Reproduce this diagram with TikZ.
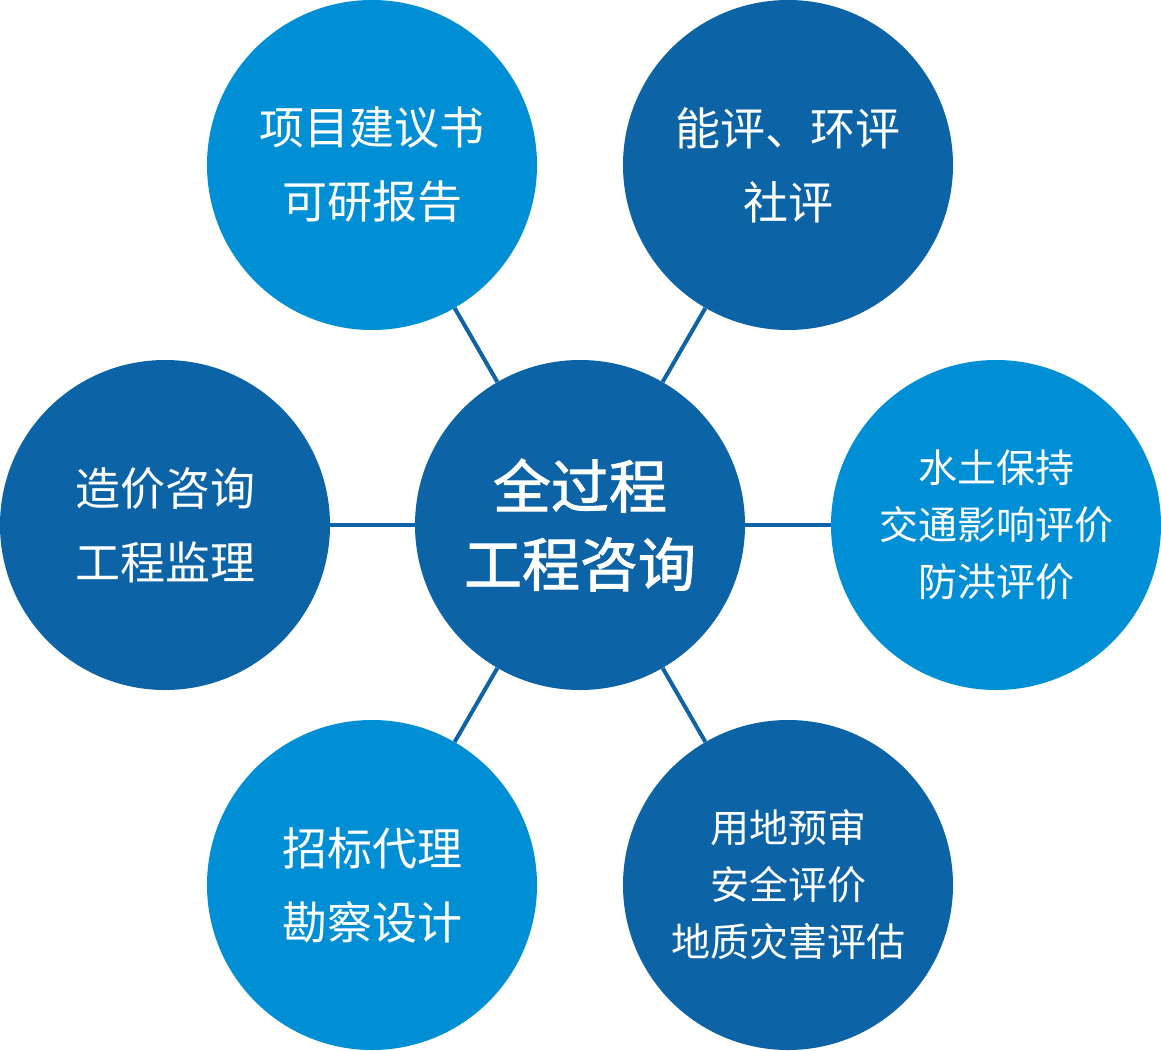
\documentclass[tikz,border=0pt]{standalone}
\usepackage{fontspec}
\setmainfont{Noto Sans CJK SC}
\newfontfamily\cjkmed[FakeBold=1.6]{Noto Sans CJK SC}
\definecolor{lightb}{HTML}{008FD5}
\definecolor{darkb}{HTML}{0C63A5}
\tikzset{
  bubble/.style={circle, minimum size=330pt, inner sep=0pt, text=white, align=center},
  lb/.style={bubble, fill=lightb},
  db/.style={bubble, fill=darkb},
  two/.style={font=\fontsize{45}{74}\selectfont},
  three/.style={font=\fontsize{39}{57}\selectfont},
  link/.style={draw=darkb, line width=4pt}
}
\begin{document}
\begin{tikzpicture}[x=1pt,y=-1pt]
\useasboundingbox (0,0) rectangle (1161,1050);
\node[db, font=\fontsize{58}{78}\selectfont\cjkmed] (c) at (580,525) {全过程\\工程咨询};
\node[lb, two] (tl) at (372,165) {项目建议书\\可研报告};
\node[db, two] (tr) at (788,165) {能评、环评\\社评};
\node[db, two] (l) at (165,525) {造价咨询\\工程监理};
\node[lb, three] (r) at (996,525) {水土保持\\交通影响评价\\防洪评价};
\node[lb, two] (bl) at (372,885) {招标代理\\勘察设计};
\node[db, three] (br) at (788,885) {用地预审\\安全评价\\地质灾害评估};
\draw[link] (c) -- (tl);
\draw[link] (c) -- (tr);
\draw[link] (c) -- (l);
\draw[link] (c) -- (r);
\draw[link] (c) -- (bl);
\draw[link] (c) -- (br);
\end{tikzpicture}
\end{document}
